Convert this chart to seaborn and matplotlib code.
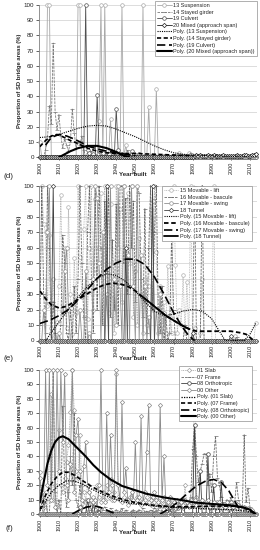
import numpy as np
import pandas as pd
import matplotlib
matplotlib.use("Agg")
import matplotlib.pyplot as plt
import seaborn as sns

sns.set_theme(style="white")
plt.rcParams['font.family'] = ['Liberation Sans', 'DejaVu Sans']

years = list(range(1900, 2014))
tick_years = list(range(1900, 2011, 10))
y_ticks = list(range(0, 101, 10))

# ---------------- Panel (d) raw series (non-zero years; all other years are 0) ----------------
d_susp13 = {1900: 10, 1904: 100, 1905: 100, 1920: 100, 1921: 100, 1931: 24, 1932: 100, 1934: 100,
            1937: 25, 1943: 100, 1945: 8, 1954: 100, 1957: 33, 1961: 45, 1973: 3, 1978: 3}
d_stay14 = {1903: 5, 1904: 12, 1905: 34, 1906: 22, 1907: 75, 1908: 30, 1909: 18, 1910: 28, 1911: 14,
            1912: 6, 1913: 12, 1914: 8, 1915: 4, 1916: 10, 1917: 32, 1918: 16, 1919: 6, 1920: 10,
            1921: 8, 1922: 14, 1923: 5, 1925: 3, 1927: 4, 1929: 2, 1935: 3, 1938: 5, 1940: 2,
            1946: 5, 1950: 3, 1955: 2, 1960: 2, 1965: 1, 1970: 2, 1975: 2, 1979: 3}
d_culv19 = {1924: 100, 1925: 5, 1926: 3, 1928: 2, 1930: 41, 1931: 4, 1933: 3, 1936: 2, 1940: 32,
            1941: 5, 1943: 2, 1948: 4, 1952: 2, 1958: 1, 1965: 1, 1972: 1, 1980: 1}
d_mixed20 = {1981: 1, 1982: 1.5, 1983: 1, 1984: 1.2, 1985: 1, 1986: 0.8, 1987: 1, 1988: 1.2,
             1989: 0.8, 1990: 1, 1991: 1.3, 1992: 1, 1993: 0.7, 1994: 1, 1995: 0.8, 1996: 1.2,
             1997: 1, 1998: 0.6, 1999: 1, 2000: 1, 2001: 0.8, 2002: 1.1, 2003: 1.3, 2004: 1,
             2005: 0.7, 2006: 1, 2007: 1.2, 2008: 1.5, 2009: 1, 2010: 0.8, 2011: 1.2, 2012: 1.5, 2013: 2}

# Panel (d) trendlines
d_p13_x = [1900, 1905, 1910, 1915, 1920, 1925, 1930, 1935, 1940, 1945, 1950, 1955, 1960, 1965, 1970, 1975, 1980, 1990, 2000, 2013]
d_p13_y = [13, 13.5, 15, 17, 19, 20.5, 21, 20.5, 18.5, 16, 13.5, 10.5, 7.5, 5, 3, 2, 1.5, 1, 0.5, 0.3]
d_p14_x = [1900, 1903, 1906, 1909, 1912, 1916, 1920, 1925, 1930, 1935, 1940, 1950, 1960, 1970, 1980]
d_p14_y = [7, 11, 14, 15, 13.5, 11, 9, 6, 4, 3, 2.5, 2.5, 2, 1.5, 1]
d_p19_x = [1903, 1906, 1910, 1914, 1918, 1922, 1926, 1930, 1935, 1940, 1945, 1950]
d_p19_y = [8, 13, 15, 14, 12, 9.5, 7, 5.5, 4, 3, 2, 1]
d_p20_x = [1910, 1913, 1916, 1920, 1925, 1930, 1935, 1940, 1944, 1947]
d_p20_y = [0, 2, 4, 6, 7.5, 7.5, 6, 3.5, 1, 0]

# ---------------- Panel (e) raw series, 1900..2013 ----------------
e_lift15 = [0, 100, 75, 70, 22, 68, 8, 40, 3, 12,
            35, 94, 18, 60, 8, 86, 30, 4, 53, 18,
            100, 54, 28, 72, 100, 14, 60, 100, 20, 91,
            45, 60, 95, 35, 100, 40, 18, 88, 30, 5,
            100, 60, 85, 25, 100, 40, 95, 50, 100, 15,
            45, 10, 66, 30, 5, 40, 10, 35, 85, 20,
            100, 57, 5, 35, 10, 25, 5, 48, 15, 5,
            100, 49, 5, 20, 10, 42, 5, 38, 0, 100,
            0, 8, 0, 0, 5, 40, 0, 0, 0, 0,
            0, 100, 0, 0, 0, 0, 0, 0, 0, 0,
            0, 0, 3, 0, 0, 0, 0, 0, 0, 0,
            0, 0, 0, 11]
e_bascule16 = [10, 100, 30, 5, 100, 60, 0, 25, 5, 0,
               0, 10, 68, 50, 5, 0, 20, 0, 35, 5,
               40, 100, 50, 15, 0, 70, 100, 40, 5, 100,
               20, 100, 60, 10, 90, 45, 100, 15, 65, 20,
               88, 10, 100, 100, 50, 92, 30, 100, 60, 90,
               25, 100, 95, 40, 15, 85, 5, 60, 100, 20,
               70, 100, 20, 5, 35, 0, 15, 0, 5, 70,
               20, 0, 0, 0, 0, 0, 10, 0, 0, 0,
               0, 100, 0, 0, 0, 100, 0, 0, 0, 0,
               0, 0, 0, 0, 0, 0, 0, 0, 0, 0,
               0, 0, 0, 2, 0, 0, 0, 0, 0, 0,
               0, 0, 0, 0]
e_swing17 = [0, 0, 20, 0, 70, 100, 5, 0, 0, 0,
             5, 0, 0, 45, 60, 20, 0, 0, 0, 0,
             0, 20, 0, 0, 45, 0, 5, 0, 40, 100,
             92, 50, 0, 70, 0, 30, 0, 100, 0, 40,
             10, 100, 35, 0, 100, 0, 55, 0, 100, 35,
             0, 100, 0, 55, 0, 35, 0, 15, 0, 90,
             0, 20, 0, 30, 0, 18, 0, 0, 0, 0,
             0, 0, 0, 0, 0, 0, 0, 0, 0, 0,
             0, 0, 0, 0, 0, 0, 0, 0, 0, 0,
             0, 0, 0, 0, 0, 0, 0, 0, 0, 0,
             0, 0, 0, 0, 0, 0, 0, 0, 0, 0,
             0, 0, 0, 0]
e_tunnel18 = {1907: 100, 1935: 100, 1945: 60, 1959: 100, 1980: 5, 2000: 3}

e_p15_x = [1903, 1906, 1910, 1915, 1920, 1925, 1930, 1935, 1940, 1945, 1950, 1955, 1960, 1965, 1970,
           1975, 1980, 1985, 1990, 1994, 1997, 2002, 2007, 2010, 2013]
e_p15_y = [0, 5, 12, 20, 28, 35, 40, 43, 42, 38, 32, 25, 19, 16, 17, 19, 20, 19, 14, 6, 0, 0, 0, 4, 11]
e_p16_x = [1900, 1903, 1906, 1910, 1914, 1918, 1922, 1926, 1930, 1934, 1938, 1942, 1946, 1950, 1954,
           1958, 1962, 1966, 1970, 1974, 1978, 1982, 1986, 1990, 1995, 2000, 2005, 2008, 2011, 2012]
e_p16_y = [32, 27, 23, 21, 22, 25, 28, 31, 34, 36, 37, 36.5, 35, 32, 28, 24, 20, 16, 13, 10, 7.5, 6,
           6, 6, 6, 6, 5, 4, 1, 0]
e_p17_x = [1900, 1905, 1910, 1915, 1920, 1925, 1930, 1935, 1940, 1945, 1950, 1955, 1960, 1965, 1970,
           1975, 1978, 1981]
e_p17_y = [11, 13, 16, 20, 26, 33, 40, 46, 50, 52.5, 52.5, 49, 41, 30, 18, 8, 3, 0]
e_p18_x = [1954, 1958, 1962, 1966, 1970, 1974, 1978]
e_p18_y = [28, 24, 20, 16, 13, 10, 7.5]

# ---------------- Panel (f) raw series, 1900..2013 ----------------
f_slab01 = [29, 10, 5, 15, 0, 40, 83, 10, 20, 5,
            58, 20, 15, 25, 36, 48, 71, 100, 72, 30,
            25, 55, 20, 15, 10, 20, 15, 5, 12, 10,
            20, 12, 8, 15, 10, 20, 12, 24, 10, 15,
            97, 12, 10, 8, 12, 10, 6, 12, 8, 10,
            8, 12, 10, 6, 8, 10, 12, 8, 6, 10,
            8, 5, 10, 6, 8, 12, 6, 5, 8, 4,
            6, 4, 8, 5, 6, 4, 20, 6, 5, 8,
            10, 100, 12, 8, 6, 10, 5, 8, 6, 4,
            5, 6, 4, 8, 5, 3, 6, 4, 5, 3,
            4, 5, 3, 4, 6, 3, 4, 5, 2, 4,
            3, 2, 1, 0]
f_frame07 = [20, 5, 0, 10, 0, 0, 30, 100, 15, 0,
             10, 0, 75, 20, 5, 15, 40, 20, 70, 10,
             5, 20, 0, 10, 5, 0, 10, 3, 0, 5,
             2, 5, 0, 3, 5, 2, 0, 4, 2, 0,
             3, 0, 2, 4, 0, 3, 1, 0, 2, 3,
             0, 2, 3, 0, 4, 1, 2, 0, 3, 2,
             4, 2, 3, 5, 2, 6, 3, 4, 2, 5,
             2, 5, 3, 8, 4, 6, 10, 5, 8, 12,
             45, 62, 40, 22, 30, 35, 42, 42, 20, 28,
             15, 40, 54, 25, 20, 12, 8, 5, 10, 6,
             12, 5, 8, 22, 10, 6, 4, 55, 8, 18,
             5, 2, 0, 0]
f_ortho08 = {1921: 5, 1925: 10, 1928: 8, 1931: 4, 1968: 5, 1975: 10, 1981: 62, 1984: 30,
             1988: 42, 1991: 20, 1995: 22, 2000: 8}
f_other00 = [25, 15, 10, 100, 20, 100, 10, 100, 5, 100,
             30, 100, 50, 97, 20, 10, 35, 100, 15, 55,
             66, 30, 10, 33, 50, 20, 15, 10, 8, 10,
             5, 20, 100, 10, 8, 70, 15, 55, 20, 10,
             100, 20, 10, 78, 15, 32, 10, 8, 15, 10,
             50, 10, 12, 68, 8, 15, 43, 76, 10, 12,
             15, 10, 8, 76, 10, 40, 5, 8, 12, 6,
             8, 6, 10, 5, 8, 6, 10, 8, 6, 10,
             8, 10, 6, 8, 5, 10, 6, 8, 10, 5,
             6, 8, 5, 6, 8, 4, 6, 5, 8, 4,
             6, 5, 8, 4, 6, 5, 3, 5, 4, 3,
             2, 3, 1, 0]

f_p01_x = [1900, 1903, 1906, 1910, 1914, 1918, 1922, 1926, 1930, 1935, 1940, 1945, 1950, 1960, 1970,
           1980, 1990, 2000, 2008, 2013]
f_p01_y = [2, 9, 15, 20, 23, 23, 21, 18, 15.5, 12.5, 10, 8, 7, 5.5, 4.5, 4, 3.5, 3, 2, 0]
f_p07_x = [1900, 1903, 1906, 1909, 1912, 1915, 1918, 1922, 1926, 1930, 1935, 1940, 1945, 1950, 1955,
           1960, 1970, 1980, 1990, 2000, 2005, 2009, 2013]
f_p07_y = [3, 13, 21, 26, 29, 29, 27, 23.5, 20, 17, 14, 11.5, 9.5, 8, 7, 6, 5, 5, 5.5, 5.5, 5, 3, 0]
f_p08a_x = [1917, 1921, 1925, 1929, 1933, 1937, 1940]
f_p08a_y = [0, 3, 5, 5.5, 4, 1.5, 0]
f_p08b_x = [1963, 1967, 1972, 1977, 1982, 1987, 1991, 1995, 1999, 2002, 2005]
f_p08b_y = [0, 3, 8, 14, 19.5, 23, 24, 22, 16, 9, 2]
f_p00_x = [1900, 1902, 1904, 1906, 1908, 1910, 1912, 1915, 1918, 1921, 1924, 1928, 1932, 1937, 1943,
           1950, 1956, 1965, 1975, 1981, 1990, 2000, 2007, 2010, 2013]
f_p00_y = [8, 22, 35, 44, 50, 53, 54, 52, 48, 44, 40, 34, 29, 24, 19.5, 16.5, 14, 11.5, 9.5, 8, 7,
           6, 4.5, 3, 0]


def as_list(v):
    if isinstance(v, dict):
        return [v.get(y, 0) for y in years]
    return v


def raw(ax, vals, label, color, ls, marker, ms=2.6, lw=0.6):
    sns.lineplot(x=years, y=as_list(vals), ax=ax, color=color, linestyle=ls, linewidth=lw,
                 marker=marker, markersize=ms, markerfacecolor='white', markeredgecolor=color,
                 markeredgewidth=0.5, label=label, errorbar=None, clip_on=False)


def trend(ax, xs, ys, label, ls, lw):
    sns.lineplot(x=xs, y=ys, ax=ax, color='black', linestyle=ls, linewidth=lw,
                 label=label, errorbar=None)


W, H = 260, 550
fig = plt.figure(figsize=(2.6, 5.5), dpi=100)

panels = [  # (top px, bottom px)
    (5, 157.3),
    (185.5, 340.5),
    (370, 514),
]
left_px, right_px = 38.5, 257
axes = []
for top, bot in panels:
    ax = fig.add_axes([left_px / W, 1 - bot / H, (right_px - left_px) / W, (bot - top) / H])
    axes.append(ax)

DOT = (0, (1, 1))
SDASH = (0, (2.5, 1.5))
LDASH = (0, (5, 2.2))
RDASH = (0, (3, 1.2))

# Panel (d)
ax = axes[0]
raw(ax, d_susp13, '13 Suspension', '#a8a8a8', '-', 'o')
raw(ax, d_stay14, '14 Stayed girder', '#7a7a7a', RDASH, '_')
raw(ax, d_culv19, '19 Culvert', '#505050', '-', 'o')
raw(ax, d_mixed20, '20 Mixed (approach span)', '#202020', '-', 'D', ms=2.2)
trend(ax, d_p13_x, d_p13_y, 'Poly. (13 Suspension)', DOT, 0.8)
trend(ax, d_p14_x, d_p14_y, 'Poly. (14 Stayed girder)', SDASH, 1.2)
trend(ax, d_p19_x, d_p19_y, 'Poly. (19 Culvert)', LDASH, 1.2)
trend(ax, d_p20_x, d_p20_y, 'Poly. (20 Mixed (approach span))', '-', 1.5)

# Panel (e)
ax = axes[1]
raw(ax, e_lift15, '15 Movable - lift', '#b0b0b0', DOT, 'o')
raw(ax, e_bascule16, '16 Movable - bascule', '#6a6a6a', RDASH, '_')
raw(ax, e_swing17, '17 Movable - swing', '#909090', '-', 'o')
raw(ax, e_tunnel18, '18 Tunnel', '#404040', '-', 'D', ms=2.2)
trend(ax, e_p15_x, e_p15_y, 'Poly. (15 Movable - lift)', DOT, 0.8)
trend(ax, e_p16_x, e_p16_y, 'Poly. (16 Movable - bascule)', SDASH, 1.3)
trend(ax, e_p17_x, e_p17_y, 'Poly. (17 Movable - swing)', LDASH, 1.2)
trend(ax, e_p18_x, e_p18_y, 'Poly. (18 Tunnel)', '-', 1.3)

# Panel (f)
ax = axes[2]
raw(ax, f_slab01, '01 Slab', '#a0a0a0', DOT, 'D', ms=2.2)
raw(ax, f_frame07, '07 Frame', '#6e6e6e', RDASH, '_')
raw(ax, f_ortho08, '08 Orthotropic', '#404040', '-', 'o')
raw(ax, f_other00, '00 Other', '#8a8a8a', '-', 'D', ms=2.2)
trend(ax, f_p01_x, f_p01_y, 'Poly. (01 Slab)', DOT, 0.9)
trend(ax, f_p07_x, f_p07_y, 'Poly. (07 Frame)', SDASH, 1.2)
trend(ax, f_p08a_x, f_p08a_y, 'Poly. (08 Orthotropic)', LDASH, 1.2)
trend(ax, f_p08b_x, f_p08b_y, '_nolegend_', LDASH, 1.2)
trend(ax, f_p00_x, f_p00_y, 'Poly. (00 Other)', '-', 1.5)

legend_anchor = [(257, 1), (252, 186), (252, 366)]
letters = [('(d)', 176), ('(e)', 358), ('(f)', 529)]
xlabel_y = [175, 358.5, 532]

for i, ax in enumerate(axes):
    ax.set_xlim(1899.3, 2013.7)
    ax.set_ylim(0, 100)
    ax.set_yticks(y_ticks)
    ax.set_yticklabels([str(v) for v in y_ticks], fontsize=4.5)
    ax.set_xticks(tick_years)
    ax.set_xticklabels([str(v) for v in tick_years], fontsize=3.9, rotation=90)
    ax.tick_params(axis='both', length=2, width=0.5, pad=1.2, colors='#222222', direction='out',
                   bottom=True, left=True)
    ax.grid(axis='y', color='#cfcfcf', linewidth=0.5)
    ax.grid(axis='x', visible=False)
    ax.set_axisbelow(True)
    for s in ['top', 'right']:
        ax.spines[s].set_visible(False)
    for s in ['left', 'bottom']:
        ax.spines[s].set_color('#808080')
        ax.spines[s].set_linewidth(0.6)
    ax.set_xlabel('')
    ax.set_ylabel('')
    rx, ty = legend_anchor[i]
    leg = ax.legend(loc='upper right', bbox_to_anchor=(rx / W, 1 - ty / H),
                    bbox_transform=fig.transFigure, fontsize=4.0, frameon=True, fancybox=False,
                    framealpha=1, edgecolor='#909090', borderpad=0.4, labelspacing=0.28,
                    handlelength=2.6, handletextpad=0.3, borderaxespad=0)
    leg.get_frame().set_linewidth(0.5)
    top, bot = panels[i]
    fig.text(20 / W, 1 - ((top + bot) / 2) / H, 'Proportion of SD bridge areas (%)', rotation=90,
             ha='center', va='center', fontsize=4.2, fontweight='bold')
    fig.text(133 / W, 1 - xlabel_y[i] / H, 'Year built', ha='center', va='center', fontsize=4.4,
             fontweight='bold')
    lt, ly = letters[i]
    fig.text(9 / W, 1 - ly / H, lt, ha='center', va='center', fontsize=5.8, color='#222222')

fig.savefig('out.png', dpi=100, facecolor='white')
